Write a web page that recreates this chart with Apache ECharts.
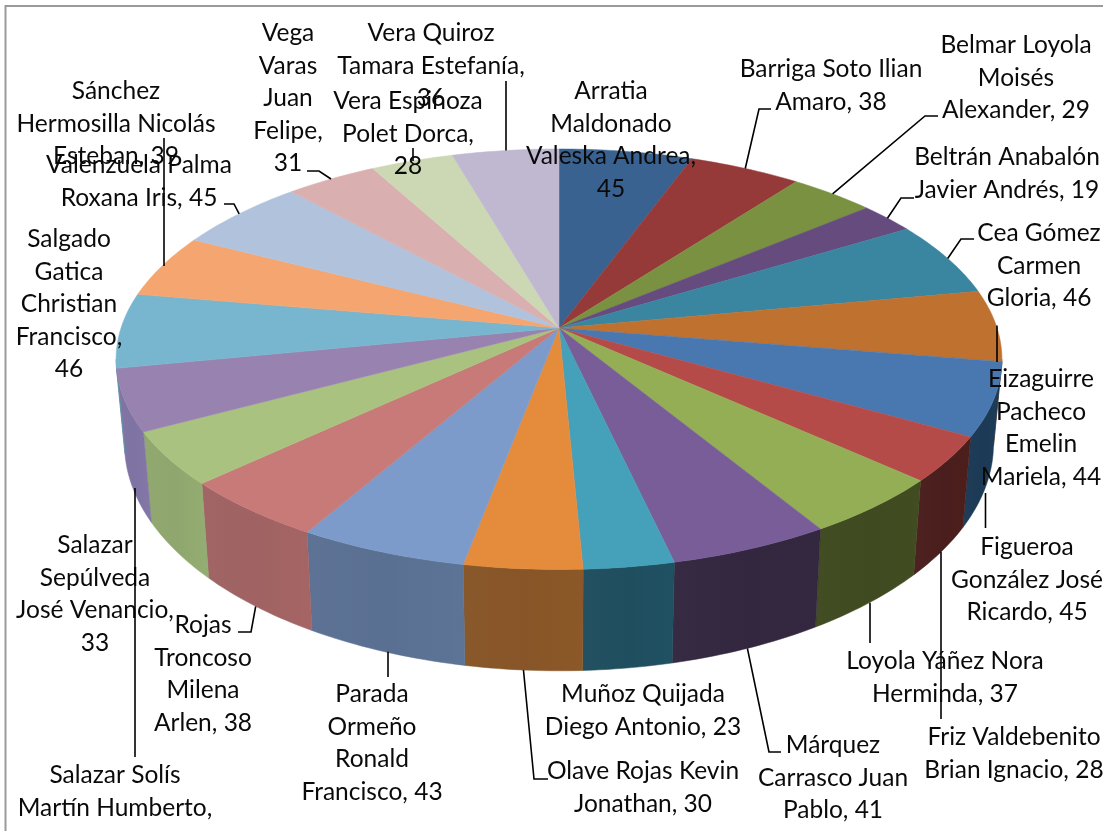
<!DOCTYPE html>
<html>
<head>
<meta charset="utf-8">
<title>Pie</title>
<style>
  html, body { margin: 0; padding: 0; background: #fff; }
  #main { width: 1103px; height: 831px; }
</style>
<script src="https://cdn.jsdelivr.net/npm/echarts@6/dist/echarts.min.js"></script>
</head>
<body>
<div id="main"></div>
<script>
// data, clockwise from 12 o'clock
var values = [45, 38, 29, 19, 46, 44, 45, 28, 37, 41, 23, 30, 43, 38, 33, 38, 46, 39, 45, 31, 28, 36];
var labels = [
  'Arratia\nMaldonado\nValeska Andrea,\n45',
  'Barriga Soto Ilian\nAmaro, 38',
  'Belmar Loyola\nMoisés\nAlexander, 29',
  'Beltrán Anabalón\nJavier Andrés, 19',
  'Cea Gómez\nCarmen\nGloria, 46',
  'Eizaguirre\nPacheco\nEmelin\nMariela, 44',
  'Figueroa\nGonzález José\nRicardo, 45',
  'Friz Valdebenito\nBrian Ignacio, 28',
  'Loyola Yáñez Nora\nHerminda, 37',
  'Márquez\nCarrasco Juan\nPablo, 41',
  'Muñoz Quijada\nDiego Antonio, 23',
  'Olave Rojas Kevin\nJonathan, 30',
  'Parada\nOrmeño\nRonald\nFrancisco, 43',
  'Rojas\nTroncoso\nMilena\nArlen, 38',
  'Salazar\nSepúlveda\nJosé Venancio,\n33',
  'Salazar Solís\nMartín Humberto,',
  'Salgado\nGatica\nChristian\nFrancisco,\n46',
  'Sánchez\nHermosilla Nicolás\nEsteban, 39',
  'Valenzuela Palma\nRoxana Iris, 45',
  'Vega\nVaras\nJuan\nFelipe,\n31',
  'Vera Espinoza\nPolet Dorca,\n28',
  'Vera Quiroz\nTamara Estefanía,\n36'
];
var topColors = [
  '#3a6291', '#953a38', '#7a9141', '#654b7e', '#3a859f', '#bf7130',
  '#4978b1', '#b54b48', '#93ae55', '#785d99', '#45a0ba', '#e58b3c',
  '#7c9aca', '#c77a78', '#aac27f', '#9882af', '#78b5ce', '#f5a56f',
  '#b1c2dc', '#d9afb0', '#ccd8b4', '#c0b8d1'
];
var wallColors = [
  '#28456a', '#6a2725', '#56682b', '#46345a', '#275f72', '#885020',
  '#1c3a55', '#4a1e1c', '#3f4a20', '#32273f', '#1f4e5f', '#875527',
  '#5a7092', '#a06262', '#8fa76e', '#7f73a3', '#5f93a8', '#c88555',
  '#8e9db5', '#b08c8d', '#a6b092', '#9c95aa'
];

// label position: centre x, centre y of first line
var labelPos = [
  [611, 91], [831, 69], [1016, 45], [1007, 157], [1039, 233], [1041, 379],
  [1027, 547], [1014, 737], [945, 661], [833, 745], [643, 694], [643, 771],
  [372, 694], [203, 625], [95, 545], [115, 775], [69, 239], [116, 91],
  [139, 165], [288, 33], [408, 101], [431, 33]
];
// leader lines: start on the slice edge (bottom = lower rim of the wall), then towards the label.
// vert = keep the line straight up/down at the x of its first point
var leaders = [
  null,
  { pts: [[759, 109], [771, 109]] },
  { pts: [[925, 116], [938, 116]] },
  { pts: [[901, 198], [914, 198]] },
  { pts: [[961, 239], [974, 239]] },
  { pts: [[997, 362]], vert: true },
  { pts: [[985.5, 528]], bottom: true, vert: true, top: 493 },
  { pts: [[941, 719]], bottom: true, vert: true },
  { pts: [[870, 643]], bottom: true, vert: true },
  { pts: [[769, 752], [781, 752]], bottom: true },
  null,
  { pts: [[534, 779], [548, 779]], bottom: true },
  { pts: [[388, 677]], bottom: true, vert: true },
  { pts: [[251, 632], [238, 632]], bottom: true },
  null,
  { pts: [[135, 757]], bottom: true, vert: true },
  null,
  { pts: [[164, 138]], vert: true },
  { pts: [[234, 204], [224, 204]] },
  { pts: [[319, 171], [307, 171]] },
  { pts: [[413, 148]], vert: true },
  { pts: [[506, 81]], vert: true }
];

// perspective of the disc
var CX = 559, CY = 328, RX = 438, RY = 205.6, P = 0.1486;
var total = values.reduce(function (a, b) { return a + b; }, 0);
var starts = [];
values.reduce(function (acc, v, i) { starts[i] = acc; return acc + v; }, 0);

function deg(v) { return v / total * 360; }

function topPoint(a) {
  var r = a * Math.PI / 180, u = Math.sin(r), v = -Math.cos(r), w = 1 - P * v;
  return [CX + RX * u / w, CY + RY * v / w];
}
function bottomPoint(a) {
  var t = topPoint(a);
  return [CX + (t[0] - CX) * 0.981, 410 + 1.08 * (t[1] - CY)];
}
function arc(fn, a0, a1) {
  var pts = [], n = Math.max(2, Math.ceil(a1 - a0));
  for (var k = 0; k <= n; k++) pts.push(fn(a0 + (a1 - a0) * k / n));
  return pts;
}

// rim only shows between the two tangent points of the ellipse
var rimFrom = 90 + Math.asin(P) * 180 / Math.PI, rimTo = 360 - rimFrom;

function renderWall(params) {
  var i = params.dataIndex;
  var a0 = Math.max(deg(starts[i]), rimFrom), a1 = Math.min(deg(starts[i] + values[i]), rimTo);
  if (a1 <= a0) return { type: 'group', children: [] };
  var pts = arc(topPoint, a0, a1).concat(arc(bottomPoint, a0, a1).reverse());
  return {
    type: 'polygon',
    shape: { points: pts },
    style: {
      fill: new echarts.graphic.LinearGradient(0, 0, 1, 0, [
        { offset: 0, color: echarts.color.lift(wallColors[i], 0.02) },
        { offset: 0.5, color: wallColors[i] },
        { offset: 1, color: echarts.color.lift(wallColors[i], -0.04) }
      ]),
      stroke: wallColors[i],
      lineWidth: 0.5
    }
  };
}

function renderTop(params) {
  var i = params.dataIndex;
  var a0 = deg(starts[i]), a1 = deg(starts[i] + values[i]);
  return {
    type: 'polygon',
    shape: { points: [[CX, CY]].concat(arc(topPoint, a0, a1)) },
    style: { fill: topColors[i], stroke: topColors[i], lineWidth: 0.5 }
  };
}

function renderLabel(params) {
  var i = params.dataIndex, kids = [], lead = leaders[i];
  if (lead) {
    var mid = deg(starts[i] + values[i] / 2);
    var first = lead.bottom ? bottomPoint(mid) : topPoint(mid);
    if (lead.vert) first = [lead.pts[0][0], lead.top || first[1]];
    kids.push({
      type: 'polyline',
      shape: { points: [first].concat(lead.pts) },
      style: { stroke: '#000', lineWidth: 1.6, fill: null }
    });
  }
  kids.push({
    type: 'text',
    style: {
      text: labels[i],
      x: labelPos[i][0],
      y: labelPos[i][1] - 15.75,
      align: 'center',
      verticalAlign: 'top',
      font: '24.5px Lato, "Open Sans", sans-serif',
      lineHeight: 32.5,
      fill: '#0a0a0a'
    }
  });
  return { type: 'group', children: kids };
}

var chart = echarts.init(document.getElementById('main'), null, { renderer: 'canvas' });
chart.setOption({
  backgroundColor: '#fff',
  animation: false,
  tooltip: { show: false },
  graphic: [{
    type: 'rect',
    z: 0,
    shape: { x: 5.5, y: 6, width: 1120, height: 860 },
    style: { fill: '#fff', stroke: '#9a9a9a', lineWidth: 2 }
  }],
  series: [
    { type: 'custom', name: 'walls', coordinateSystem: 'none', z: 2, silent: true, data: values, renderItem: renderWall },
    { type: 'custom', name: 'tops', coordinateSystem: 'none', z: 3, silent: true, data: values, renderItem: renderTop },
    { type: 'custom', name: 'labels', coordinateSystem: 'none', z: 4, silent: true, data: values, renderItem: renderLabel }
  ]
});
</script>
</body>
</html>
